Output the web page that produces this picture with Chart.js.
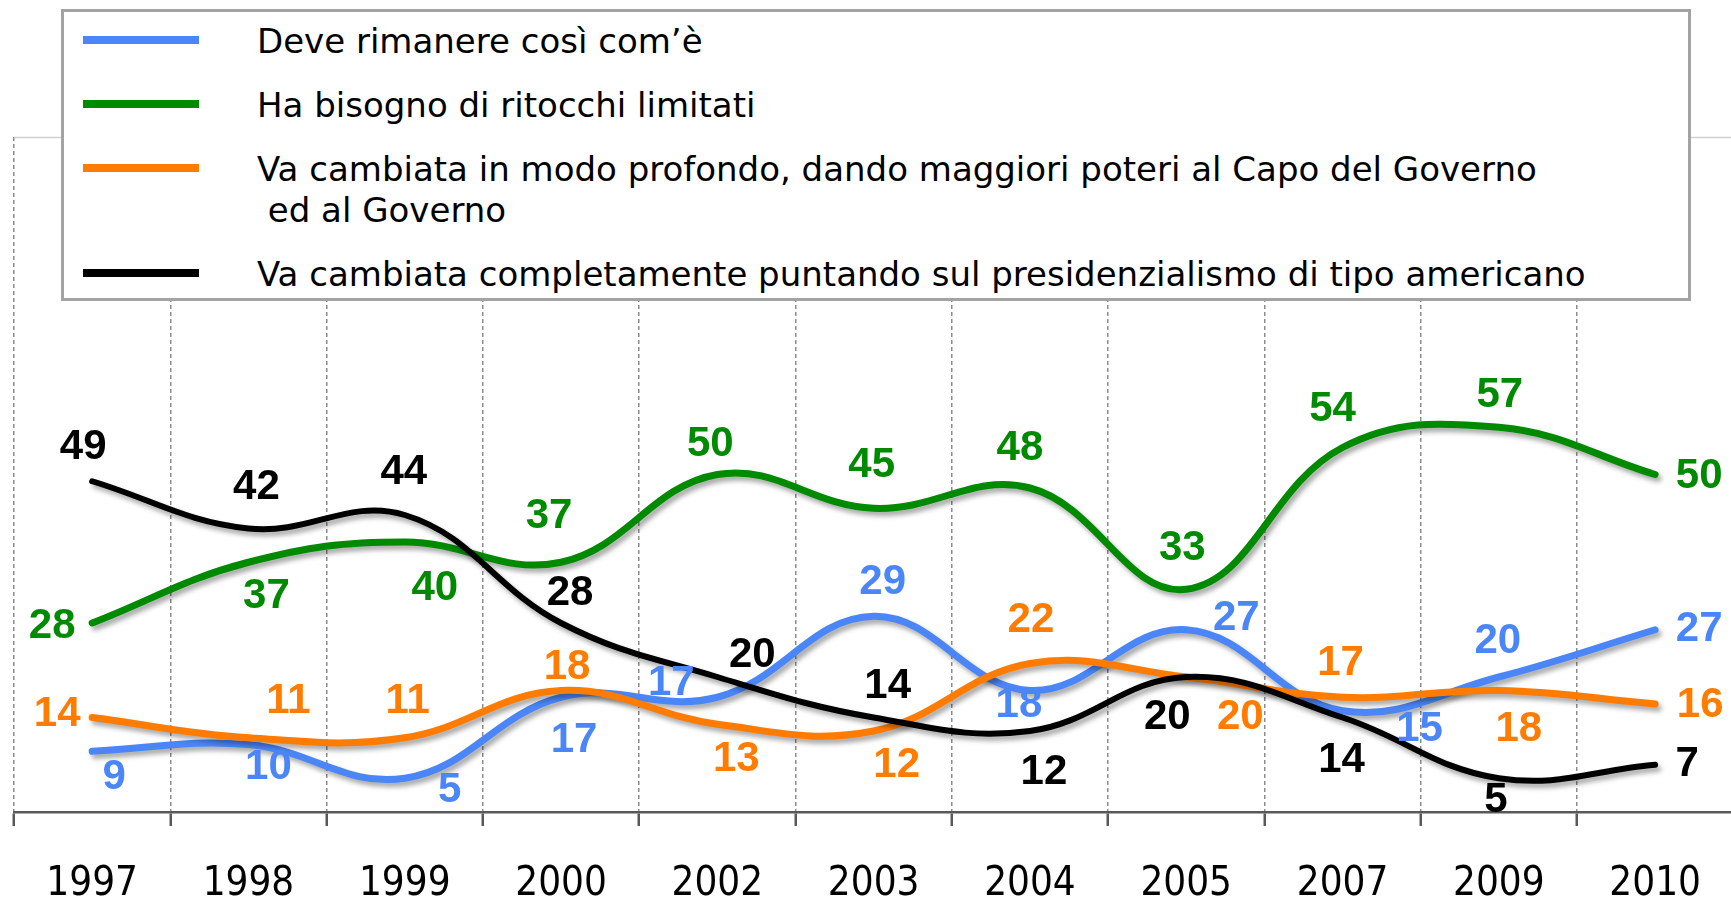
<!DOCTYPE html>
<html lang="it">
<head>
<meta charset="utf-8">
<title>Come deve essere la Costituzione</title>
<script src="https://cdn.jsdelivr.net/npm/chart.js@4/dist/chart.umd.min.js"></script>
<style>
  html, body { margin: 0; padding: 0; background: #fff; overflow: hidden; }
  #contenitore { position: relative; width: 1731px; height: 899px; overflow: hidden; }
  #grafico { position: absolute; left: 0; top: 0; }
  #legenda {
    position: absolute; left: 61px; top: 9px; width: 1630px; height: 292px;
    box-sizing: border-box; border: 3px solid #a3a3a3; background: #fff;
    font-family: "DejaVu Sans", sans-serif; font-size: 34px; color: #000;
    padding-top: 9px;
  }
  .voce { display: flex; align-items: flex-start; line-height: 41px; margin-bottom: 23px; }
  .campione { width: 116px; height: 8px; margin: 15px 58px 0 19px; flex: none; }
  .testo { white-space: pre; }
</style>
</head>
<body>
<div id="contenitore">
  <canvas id="grafico" width="1740" height="944"></canvas>
  <div id="legenda"></div>
</div>
<script>
//? DATI

const anni = ["1997", "1998", "1999", "2000", "2002", "2003", "2004", "2005", "2007", "2009", "2010"];
const rimanereCosi = [9, 10, 5, 17, 17, 29, 18, 27, 15, 20, 27];
const ritocchiLimitati = [28, 37, 40, 37, 50, 45, 48, 33, 54, 57, 50];
const cambiataProfondo = [14, 11, 11, 18, 13, 12, 22, 20, 17, 18, 16];
const presidenzialismo = [49, 42, 44, 28, 20, 14, 12, 20, 14, 5, 7];

const nomiSerie = [
  "Deve rimanere così com’è",
  "Ha bisogno di ritocchi limitati",
  "Va cambiata in modo profondo, dando maggiori poteri al Capo del Governo\n ed al Governo",
  "Va cambiata completamente puntando sul presidenzialismo di tipo americano",
];
const coloriSerie = ["#4a86f8", "#008a00", "#ff7c00", "#000000"];

//? SPOSTAMENTO DELLE ETICHETTE RISPETTO AL PUNTO (px)

const spostaBlu = [[22, 26], [20, 23], [45, 12], [13, 43], [-46, -14], [9, -34], [-11, 15], [50, -11], [77, 19], [-1, -36], [44, 0]];
const spostaVerde = [[-40, 3], [18, 34], [30, 46], [-12, -46], [-7, -30], [-2, -43], [-10, -40], [-4, -41], [-10, -38], [1, -32], [44, 2]];
const spostaArancio = [[-35, -3], [40, -36], [3, -36], [6, -23], [19, 35], [23, 34], [1, -43], [54, 40], [-2, -34], [20, 39], [45, 1]];
const spostaNero = [[-9, -34], [8, -41], [-1, -43], [9, -30], [35, -22], [14, -31], [14, 41], [-19, 40], [-1, 43], [-3, 22], [32, 0]];

const valoriSerie = [rimanereCosi, ritocchiLimitati, cambiataProfondo, presidenzialismo];
const spostamenti = [spostaBlu, spostaVerde, spostaArancio, spostaNero];

//? LEGENDA IN HTML

const legenda = document.getElementById("legenda");
nomiSerie.forEach((nome, i) => {
  const voce = document.createElement("div");
  voce.className = "voce";
  const campione = document.createElement("div");
  campione.className = "campione";
  campione.style.background = coloriSerie[i];
  const testo = document.createElement("div");
  testo.className = "testo";
  testo.textContent = nome;
  voce.appendChild(campione);
  voce.appendChild(testo);
  legenda.appendChild(voce);
});

//? PLUGIN: OMBRA DELLE LINEE, BORDO SUPERIORE, ETICHETTE

const ombraLinee = {
  id: "ombraLinee",
  beforeDatasetsDraw(chart) {
    const { ctx, chartArea } = chart;
    ctx.save();
    ctx.strokeStyle = "#d0d0d0";
    ctx.lineWidth = 1.5;
    ctx.beginPath();
    ctx.moveTo(chartArea.left, chartArea.top + 0.5);
    ctx.lineTo(chartArea.right, chartArea.top + 0.5);
    ctx.stroke();
    ctx.restore();
    ctx.save();
    ctx.shadowColor = "rgba(0,0,0,0.35)";
    ctx.shadowBlur = 5;
    ctx.shadowOffsetX = 3;
    ctx.shadowOffsetY = 4;
  },
  afterDatasetsDraw(chart) {
    chart.ctx.restore();
  },
};

const etichetteValori = {
  id: "etichetteValori",
  afterDatasetsDraw(chart) {
    const ctx = chart.ctx;
    ctx.save();
    ctx.font = 'bold 42px "Liberation Sans", sans-serif';
    ctx.textAlign = "center";
    ctx.textBaseline = "middle";
    chart.data.datasets.forEach((ds, i) => {
      const meta = chart.getDatasetMeta(i);
      ctx.fillStyle = ds.borderColor;
      meta.data.forEach((punto, j) => {
        const [dx, dy] = spostamenti[i][j];
        ctx.fillText(String(ds.data[j]), punto.x + dx, punto.y + dy);
      });
    });
    ctx.restore();
  },
};

//? GRAFICO

const datasets = valoriSerie.map((valori, i) => ({
  label: nomiSerie[i],
  data: valori,
  borderColor: coloriSerie[i],
  backgroundColor: coloriSerie[i],
  borderWidth: i === 3 ? 6 : 7,
  borderCapStyle: "round",
  pointRadius: 0,
  tension: 0.4,
  fill: false,
  order: 4 - i,
}));

new Chart("grafico", {
  type: "line",
  data: { labels: anni, datasets },
  options: {
    responsive: false,
    animation: false,
    layout: { padding: { top: 137, left: 14, right: 2, bottom: 0 } },
    plugins: { legend: { display: false }, tooltip: { enabled: false } },
    scales: {
      x: {
        offset: true,
        grid: {
          offset: true,
          color: "#8c8c8c",
          lineWidth: 1.5,
          tickLength: 14,
          tickColor: "#595959",
          tickWidth: 2.5,
          tickBorderDash: [],
        },
        border: { display: true, color: "#595959", width: 2.5, dash: [4, 3] },
        ticks: {
          color: "#000",
          padding: 39,
          maxRotation: 0,
          font: { family: '"DejaVu Sans Condensed", "DejaVu Sans", sans-serif', size: 40, lineHeight: 1 },
        },
      },
      y: { display: false, min: 0, max: 100 },
    },
  },
  plugins: [ombraLinee, etichetteValori],
});
</script>
</body>
</html>
